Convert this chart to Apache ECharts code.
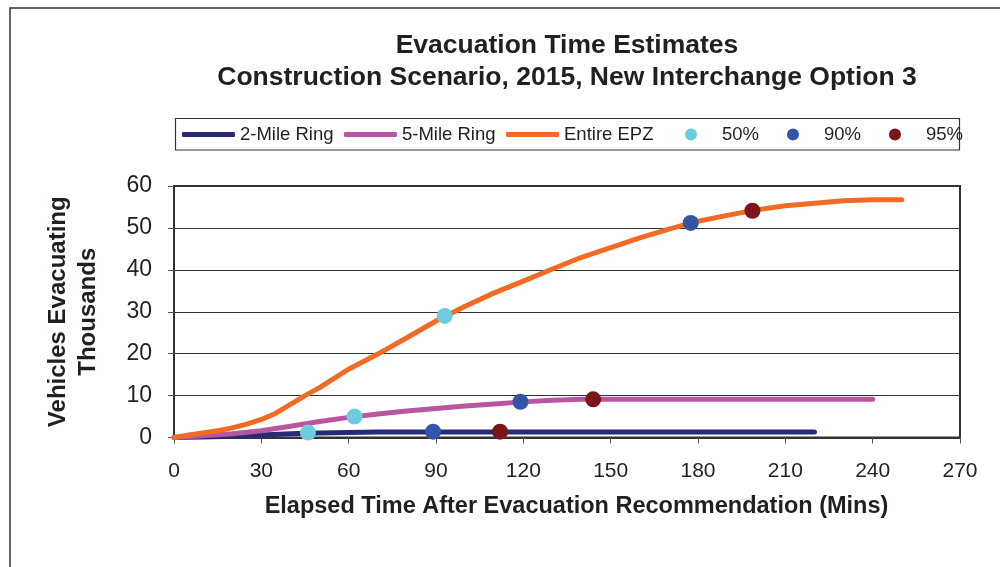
<!DOCTYPE html>
<html>
<head>
<meta charset="utf-8">
<script src="https://cdn.jsdelivr.net/npm/echarts@6/dist/echarts.min.js"></script>
<style>
html,body{margin:0;padding:0;background:#fff;}
#chart{width:1000px;height:567px;}
</style>
</head>
<body>
<div id="chart"></div>
<script>
// ---- data ----
const titleLines = ['Evacuation Time Estimates', 'Construction Scenario, 2015, New Interchange Option 3'];
const xAxisTitle = 'Elapsed Time After Evacuation Recommendation (Mins)';
const yAxisTitle = 'Vehicles Evacuating\nThousands';
const xTicks = [0, 30, 60, 90, 120, 150, 180, 210, 240, 270];
const yTicks = [0, 10, 20, 30, 40, 50, 60];

const ring2Times = [0,10,20,30,40,50,60,70,80,90,100,110,120,130,140,150,160,170,180,190,200,210,220];
const ring2Vals  = [0,0.1,0.3,0.6,0.9,1.1,1.2,1.3,1.3,1.3,1.3,1.3,1.3,1.3,1.3,1.3,1.3,1.3,1.3,1.3,1.3,1.3,1.3];

const ring5Times = [0,10,20,30,40,50,60,70,80,90,100,110,120,130,140,150,160,170,180,190,200,210,220,230,240];
const ring5Vals  = [0,0.4,0.9,1.6,2.7,3.8,4.8,5.6,6.3,6.9,7.5,8.0,8.5,8.9,9.1,9.1,9.1,9.1,9.1,9.1,9.1,9.1,9.1,9.1,9.1];

const epzTimes = [0,5,10,15,20,25,30,35,40,45,50,55,60,70,80,90,100,110,120,130,140,150,160,170,180,190,200,210,220,230,240,250];
const epzVals  = [0,0.6,1.1,1.6,2.3,3.2,4.3,5.8,7.9,10.0,11.9,14.1,16.3,19.9,23.8,27.8,31.3,34.5,37.3,40.2,43.0,45.3,47.6,49.7,51.6,53.0,54.3,55.3,55.9,56.5,56.7,56.7];

const p50Times = [46, 62, 93];
const p50Vals  = [1.2, 5.0, 29.0];
const p90Times = [89, 119, 177.5];
const p90Vals  = [1.4, 8.5, 51.2];
const p95Times = [112, 144, 198.7];
const p95Vals  = [1.4, 9.1, 54.1];

const seriesNames = ['2-Mile Ring', '5-Mile Ring', 'Entire EPZ', '50%', '90%', '95%'];

const zip = (a, b) => a.map((t, i) => [t, b[i]]);

const font = 'Liberation Sans, Arial, sans-serif';
const textColor = '#231f20';
const chart = echarts.init(document.getElementById('chart'), null, {renderer: 'canvas'});

const lineSeries = (name, times, vals, color) => ({
  name, type: 'line', data: zip(times, vals), showSymbol: false, symbol: 'none',
  smooth: false,
  lineStyle: {color, width: 5, cap: 'round', join: 'round'}, itemStyle: {color}, z: 2, silent: true
});
const dotSeries = (name, times, vals, color) => ({
  name, type: 'scatter', data: zip(times, vals), symbol: 'circle', symbolSize: 16,
  itemStyle: {color, opacity: 1}, z: 5, silent: true
});

const legendLefts = [177, 339, 501, 680, 782, 884];
const legends = seriesNames.map((n, i) => i < 3 ? {
  data: [n], left: legendLefts[i], top: 120, itemWidth: 53, itemHeight: 5, icon: 'roundRect',
  textStyle: {fontFamily: font, fontSize: 18.5, color: textColor}
} : {
  data: [n], left: legendLefts[i], top: 120, itemWidth: 12, itemHeight: 12, icon: 'circle',
  textStyle: {fontFamily: font, fontSize: 18.5, color: textColor, padding: [0, 0, 0, 20]}
});

chart.setOption({
  animation: false,
  backgroundColor: '#fff',
  title: [{
    text: titleLines.join('\n'), left: 562, top: 25, textAlign: 'center',
    textStyle: {fontFamily: font, fontWeight: 'bold', fontSize: 26.5, lineHeight: 32, color: textColor}
  }],
  graphic: [
    {type: 'rect', shape: {x: 10, y: 8, width: 1200, height: 800}, style: {fill: null, stroke: '#333', lineWidth: 1.5}, silent: true, z: 0},
    {type: 'rect', shape: {x: 175.5, y: 118.5, width: 784, height: 31.5}, style: {fill: null, stroke: '#333', lineWidth: 1.2}, silent: true, z: 0}
  ],
  legend: legends,
  grid: {left: 174, right: 40, top: 186, bottom: 129.5, show: true, borderColor: '#333', borderWidth: 2},
  xAxis: {
    type: 'value', min: 0, max: 270, interval: 30,
    name: xAxisTitle, nameLocation: 'middle', nameGap: 57,
    nameTextStyle: {fontFamily: font, fontWeight: 'bold', fontSize: 23.5, color: textColor, padding: [0, 0, 0, 19]},
    axisLine: {show: true, lineStyle: {color: '#333', width: 2}},
    axisTick: {show: true, inside: false, length: 6, lineStyle: {color: '#555', width: 1}},
    axisLabel: {fontFamily: font, fontSize: 21, color: textColor, margin: 23,
      formatter: v => xTicks.includes(v) ? String(v) : ''},
    splitLine: {show: false}
  },
  yAxis: {
    type: 'value', min: 0, max: 60, interval: 10,
    name: yAxisTitle, nameLocation: 'middle', nameGap: 71, nameRotate: 90,
    nameTextStyle: {fontFamily: font, fontWeight: 'bold', fontSize: 24, color: textColor, lineHeight: 30},
    axisLine: {show: true, lineStyle: {color: '#333', width: 2}},
    axisTick: {show: true, inside: false, length: 6, lineStyle: {color: '#555', width: 1}},
    axisLabel: {fontFamily: font, fontSize: 23, color: textColor, margin: 22,
      formatter: v => yTicks.includes(v) ? String(v) : ''},
    splitLine: {show: true, lineStyle: {color: '#333', width: 1.2}}
  },
  series: [
    lineSeries(seriesNames[0], ring2Times, ring2Vals, '#262a78'),
    lineSeries(seriesNames[1], ring5Times, ring5Vals, '#b956a4'),
    lineSeries(seriesNames[2], epzTimes, epzVals, '#f26b24'),
    dotSeries(seriesNames[3], p50Times, p50Vals, '#6ecddd'),
    dotSeries(seriesNames[4], p90Times, p90Vals, '#3355a5'),
    dotSeries(seriesNames[5], p95Times, p95Vals, '#7b1519')
  ]
});
</script>
</body>
</html>
